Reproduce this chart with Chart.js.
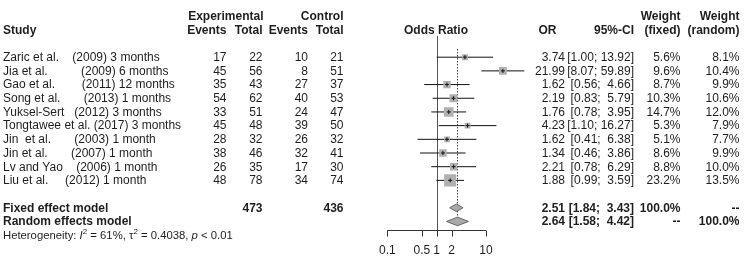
<!DOCTYPE html>
<html>
<head>
<meta charset="utf-8">
<script src="https://cdn.jsdelivr.net/npm/chart.js@4"></script>
<style>
html,body{margin:0;padding:0;background:#fff;}
#wrap{width:744px;height:267px;}
</style>
</head>
<body>
<div id="wrap"><canvas id="c" width="744" height="267"></canvas></div>
<script>
// ---------- DATA ----------
const studies = [
  "Zaric et al.    (2009) 3 months",
  "Jia et al.          (2009) 6 months",
  "Gao et al.        (2011) 12 months",
  "Song et al.       (2013) 1 months",
  "Yuksel-Sert   (2012) 3 months",
  "Tongtawee et al. (2017) 3 months",
  "Jin  et al.       (2003) 1 month",
  "Jin et al.       (2007) 1 month",
  "Lv and Yao    (2006) 1 month",
  "Liu et al.     (2012) 1 month"
];
const expEvents  = [17, 45, 35, 54, 33, 45, 28, 38, 26, 48];
const expTotal   = [22, 56, 43, 62, 51, 48, 32, 46, 35, 78];
const ctrlEvents = [10,  8, 27, 40, 24, 39, 26, 32, 17, 34];
const ctrlTotal  = [21, 51, 37, 53, 47, 50, 32, 41, 30, 74];
const orValues   = [3.74, 21.99, 1.62, 2.19, 1.76, 4.23, 1.62, 1.34, 2.21, 1.88];
const ciLower    = [1.00, 8.07, 0.56, 0.83, 0.78, 1.10, 0.41, 0.46, 0.78, 0.99];
const ciUpper    = [13.92, 59.89, 4.66, 5.79, 3.95, 16.27, 6.38, 3.86, 6.29, 3.59];
const weightFixed  = [5.6, 9.6, 8.7, 10.3, 14.7, 5.3, 5.1, 8.6, 8.8, 23.2];
const weightRandom = [8.1, 10.4, 9.9, 10.6, 12.0, 7.9, 7.7, 9.9, 10.0, 13.5];

const pooledLabels = ["Fixed effect model", "Random effects model"];
const pooledOR     = [2.51, 2.64];
const pooledLower  = [1.84, 1.58];
const pooledUpper  = [3.43, 4.42];
const pooledExpTotal  = ["473", ""];
const pooledCtrlTotal = ["436", ""];
const pooledWFixed  = ["100.0%", "--"];
const pooledWRandom = ["--", "100.0%"];

const axisTicks  = [0.1, 0.5, 1, 2, 10];
const tickLabels = ["0.1", "0.5", "1", "2", "10"];
const hetI2 = "61%", hetTau2 = "0.4038", hetP = "< 0.01";

// ---------- LAYOUT (styles / positions) ----------
const L = {
  font: "'Liberation Sans', Arial, sans-serif",
  fs: 12, hetFs: 11.3,
  color: "#1e1e1e",
  xStudy: 3, xExpEv: 226.5, xExpTot: 262.5, xCtrlEv: 308, xCtrlTot: 343.5,
  xOdds: 436, xOR: 565, xORhead: 547.5, xCI: 634, xWF: 680.5, xWR: 739.5,
  rowHead1: -3, rowHead2: -2,
  rowFixed: 11, rowRandom: 12, rowHet: 13,
  rowAxis: 12.63, rowTickLab: 14.1, rowRefTop: -1.55, rowDotTop: -0.6,
  textDy: 0.5
};

const fmt2 = v => v.toFixed(2);
const ciText = (lo, hi) => "[" + fmt2(lo) + ";" + (hi < 10 ? "  " : " ") + fmt2(hi) + "]";

// ---------- DATASETS ----------
const datasets = [];
studies.forEach((s, i) => {
  datasets.push({
    type: 'line',
    data: [{x: ciLower[i], y: i}, {x: ciUpper[i], y: i}],
    borderColor: '#111', borderWidth: 1, pointRadius: 0, fill: false, order: 3
  });
});
datasets.push({
  type: 'scatter',
  data: orValues.map((v, i) => ({x: v, y: i})),
  pointStyle: 'rect',
  backgroundColor: '#b0b0b0',
  borderWidth: 0,
  pointRadius: ctx => 2.5 * Math.sqrt(weightFixed[ctx.dataIndex]) / Math.SQRT2,
  order: 2
});
datasets.push({
  type: 'scatter',
  data: orValues.map((v, i) => ({x: v, y: i})),
  pointStyle: 'cross',
  borderColor: '#111',
  borderWidth: 1,
  pointRadius: 2,
  order: 1
});

function drawText(ctx, txt, x, y, align, bold) {
  ctx.font = (bold ? "bold " : "") + L.fs + "px " + L.font;
  ctx.textAlign = align;
  ctx.textBaseline = "middle";
  ctx.fillStyle = L.color;
  ctx.fillText(txt, x, y);
}

const forestPlugin = {
  id: 'forest',
  beforeDatasetsDraw(chart) {
    const ctx = chart.ctx, xs = chart.scales.x, ys = chart.scales.y;
    ctx.save();
    ctx.strokeStyle = '#555'; ctx.lineWidth = 1;
    const x1 = Math.round(xs.getPixelForValue(1)) + 0.5;
    ctx.beginPath();
    ctx.moveTo(x1, ys.getPixelForValue(L.rowRefTop));
    ctx.lineTo(x1, ys.getPixelForValue(L.rowAxis));
    ctx.stroke();
    const xr = Math.round(xs.getPixelForValue(pooledOR[1])) + 0.5;
    ctx.setLineDash([1.5, 1.5]);
    ctx.strokeStyle = '#444';
    ctx.beginPath();
    ctx.moveTo(xr, ys.getPixelForValue(L.rowDotTop));
    ctx.lineTo(xr, ys.getPixelForValue(L.rowRandom) - 4);
    ctx.stroke();
    ctx.setLineDash([]);
    ctx.restore();
  },
  afterDraw(chart) {
    const ctx = chart.ctx, xs = chart.scales.x, ys = chart.scales.y;
    const Y = r => ys.getPixelForValue(r) + L.textDy;
    ctx.save();
    const halfH = [3.8, 4.3];
    pooledOR.forEach((v, k) => {
      const row = k === 0 ? L.rowFixed : L.rowRandom;
      const cy = ys.getPixelForValue(row);
      const xl = xs.getPixelForValue(pooledLower[k]);
      const xu = xs.getPixelForValue(pooledUpper[k]);
      const xm = xs.getPixelForValue(v);
      ctx.beginPath();
      ctx.moveTo(xl, cy); ctx.lineTo(xm, cy - halfH[k]);
      ctx.lineTo(xu, cy); ctx.lineTo(xm, cy + halfH[k]); ctx.closePath();
      ctx.fillStyle = '#a9a9a9'; ctx.fill();
      ctx.strokeStyle = '#666'; ctx.lineWidth = 1; ctx.stroke();
    });
    const ay = Math.round(ys.getPixelForValue(L.rowAxis)) + 0.5;
    ctx.strokeStyle = '#333'; ctx.lineWidth = 1;
    ctx.beginPath();
    ctx.moveTo(xs.getPixelForValue(axisTicks[0]), ay);
    ctx.lineTo(xs.getPixelForValue(axisTicks[axisTicks.length - 1]), ay);
    axisTicks.forEach(t => {
      const tx = Math.round(xs.getPixelForValue(t)) + 0.5;
      ctx.moveTo(tx, ay); ctx.lineTo(tx, ay + 6);
    });
    ctx.stroke();
    axisTicks.forEach((t, i) => {
      drawText(ctx, tickLabels[i], xs.getPixelForValue(t), Y(L.rowTickLab), 'center', false);
    });

    drawText(ctx, "Experimental", L.xExpTot + 1, Y(L.rowHead1), 'right', true);
    drawText(ctx, "Control", L.xCtrlTot, Y(L.rowHead1), 'right', true);
    drawText(ctx, "Weight", L.xWF, Y(L.rowHead1), 'right', true);
    drawText(ctx, "Weight", L.xWR, Y(L.rowHead1), 'right', true);
    drawText(ctx, "Study", L.xStudy, Y(L.rowHead2), 'left', true);
    drawText(ctx, "Events", L.xExpEv, Y(L.rowHead2), 'right', true);
    drawText(ctx, "Total", L.xExpTot, Y(L.rowHead2), 'right', true);
    drawText(ctx, "Events", L.xCtrlEv, Y(L.rowHead2), 'right', true);
    drawText(ctx, "Total", L.xCtrlTot, Y(L.rowHead2), 'right', true);
    drawText(ctx, "Odds Ratio", L.xOdds, Y(L.rowHead2), 'center', true);
    drawText(ctx, "OR", L.xORhead, Y(L.rowHead2), 'center', true);
    drawText(ctx, "95%-CI", L.xCI, Y(L.rowHead2), 'right', true);
    drawText(ctx, "(fixed)", L.xWF, Y(L.rowHead2), 'right', true);
    drawText(ctx, "(random)", L.xWR, Y(L.rowHead2), 'right', true);

    studies.forEach((s, i) => {
      const y = Y(i);
      drawText(ctx, s, L.xStudy, y, 'left', false);
      drawText(ctx, String(expEvents[i]), L.xExpEv, y, 'right', false);
      drawText(ctx, String(expTotal[i]), L.xExpTot, y, 'right', false);
      drawText(ctx, String(ctrlEvents[i]), L.xCtrlEv, y, 'right', false);
      drawText(ctx, String(ctrlTotal[i]), L.xCtrlTot, y, 'right', false);
      drawText(ctx, fmt2(orValues[i]), L.xOR, y, 'right', false);
      drawText(ctx, ciText(ciLower[i], ciUpper[i]), L.xCI, y, 'right', false);
      drawText(ctx, weightFixed[i].toFixed(1) + "%", L.xWF, y, 'right', false);
      drawText(ctx, weightRandom[i].toFixed(1) + "%", L.xWR, y, 'right', false);
    });

    pooledLabels.forEach((lab, k) => {
      const y = Y(k === 0 ? L.rowFixed : L.rowRandom);
      drawText(ctx, lab, L.xStudy, y, 'left', true);
      drawText(ctx, pooledExpTotal[k], L.xExpTot, y, 'right', true);
      drawText(ctx, pooledCtrlTotal[k], L.xCtrlTot, y, 'right', true);
      drawText(ctx, fmt2(pooledOR[k]), L.xOR, y, 'right', true);
      drawText(ctx, ciText(pooledLower[k], pooledUpper[k]), L.xCI, y, 'right', true);
      drawText(ctx, pooledWFixed[k], L.xWF, y, 'right', true);
      drawText(ctx, pooledWRandom[k], L.xWR, y, 'right', true);
    });

    const hy = Y(L.rowHet);
    let hx = L.xStudy;
    const seg = (txt, style, dy, size) => {
      ctx.font = style + " " + size + "px " + L.font;
      ctx.textAlign = 'left'; ctx.textBaseline = 'middle'; ctx.fillStyle = L.color;
      ctx.fillText(txt, hx, hy + dy);
      hx += ctx.measureText(txt).width;
    };
    seg("Heterogeneity: ", "normal", 0, L.hetFs);
    seg("I", "italic", 0, L.hetFs);
    seg("2", "normal", -4, 8);
    seg(" = " + hetI2 + ", \u03C4", "normal", 0, L.hetFs);
    seg("2", "normal", -4, 8);
    seg(" = " + hetTau2 + ", ", "normal", 0, L.hetFs);
    seg("p", "italic", 0, L.hetFs);
    seg(" " + hetP, "normal", 0, L.hetFs);
    ctx.restore();
  }
};

const yPx0 = 52, yStep = 14.62, H = 267;
const yMin = -yPx0 / yStep, yMax = yMin + H / yStep;
const xLeftPx = 387.3, decadePx = 49.35;

new Chart(document.getElementById('c'), {
  type: 'scatter',
  data: { datasets },
  options: {
    responsive: false,
    animation: false,
    devicePixelRatio: 1,
    layout: { padding: { left: xLeftPx, right: 744 - (xLeftPx + 3 * decadePx), top: 0, bottom: 0 } },
    plugins: { legend: { display: false }, tooltip: { enabled: false } },
    scales: {
      x: { type: 'logarithmic', min: 0.1, max: 100, display: false },
      y: { type: 'linear', min: yMin, max: yMax, reverse: true, display: false }
    }
  },
  plugins: [forestPlugin]
});
</script>
</body>
</html>
